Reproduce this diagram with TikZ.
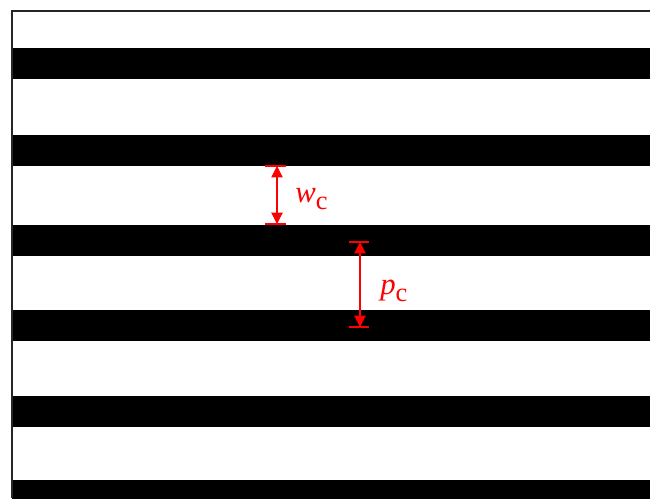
\documentclass[tikz,border=0pt]{standalone}
\usepackage{fontspec}
\setmainfont{Liberation Serif}
\usetikzlibrary{arrows.meta,positioning}
\definecolor{dimred}{RGB}{255,0,0}
\tikzset{
  stripe/.style={fill=black, draw=none},
  frameline/.style={draw=black!85, line width=1.1pt},
  dimarrow/.style={{Triangle[length=6.5pt,width=6.5pt]}-{Triangle[length=6.5pt,width=6.5pt]}, draw=dimred, fill=dimred, line width=0.6pt},
  dimtick/.style={draw=dimred, line width=0.6pt},
  dimlabel/.style={text=dimred, font=\fontsize{17.5}{20}\selectfont, inner sep=0pt}
}
\newcommand{\subc}{\raisebox{-0.2em}{\fontsize{15}{17}\selectfont c}}

\begin{document}
\begin{tikzpicture}[x=0.02cm, y=-0.02cm]
  \useasboundingbox (0,0) rectangle (650,498);
  \fill[white] (0,0) rectangle (650,498);
  % grating lines
  \foreach \top in {48,135,225,310,396,480}
    \path[stripe] (12,\top) rectangle (650,\top+31);
  \draw[frameline] (12,498) -- (12,11) -- (650,11);

  % width of one gap
  \coordinate (wtop) at (277,166);
  \coordinate (wbot) at (277,224);
  \draw[dimtick] ([shift={(-12,0)}]wtop) -- ([shift={(9,0)}]wtop);
  \draw[dimtick] ([shift={(-12,0)}]wbot) -- ([shift={(9,0)}]wbot);
  \draw[dimarrow] (wtop) -- (wbot);
  \node[dimlabel, anchor=west] (wlab) at (295,199) {\textit{w}\subc};

  % period
  \coordinate (ptop) at (360,242);
  \coordinate (pbot) at (360,327);
  \draw[dimtick] ([shift={(-11,0)}]ptop) -- ([shift={(9,0)}]ptop);
  \draw[dimtick] ([shift={(-11,0)}]pbot) -- ([shift={(9,0)}]pbot);
  \draw[dimarrow] (ptop) -- (pbot);
  \node[dimlabel, anchor=west] (plab) at (380,291) {\textit{p}\subc};
\end{tikzpicture}
\end{document}
